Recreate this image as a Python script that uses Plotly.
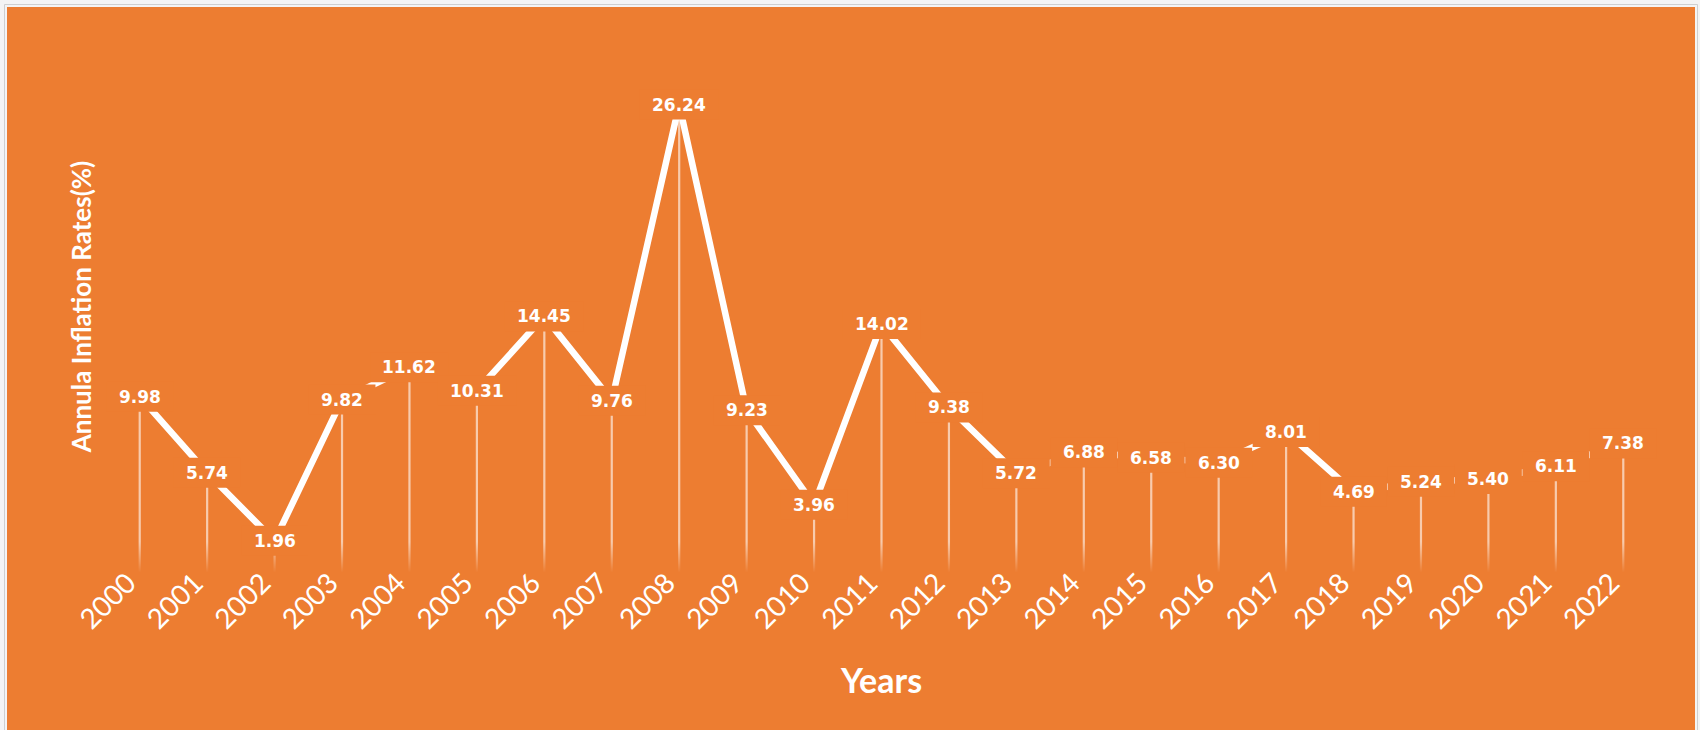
import plotly.graph_objects as go

# Annual inflation rate by year
years = list(range(2000, 2023))
inflation = [9.98, 5.74, 1.96, 9.82, 11.62, 10.31, 14.45, 9.76, 26.24, 9.23, 3.96,
             14.02, 9.38, 5.72, 6.88, 6.58, 6.30, 8.01, 4.69, 5.24, 5.40, 6.11, 7.38]
year_labels = [str(y) for y in years]
value_labels = [f"{v:.2f}" for v in inflation]

ORANGE = "#ED7D31"
WIDTH, HEIGHT = 1700, 730
ML, MR, MT, MB = 106, 43, 37, 154
PW, PH = WIDTH - ML - MR, HEIGHT - MT - MB
Y_MAX = 30


def px_x(p):
    return (p - ML) / PW


def px_y(p):
    return (HEIGHT - MB - p) / PH


fig = go.Figure()

# thick white trend line
fig.add_trace(go.Scatter(
    x=years, y=inflation, mode="lines",
    line=dict(color="white", width=6.5),
    hoverinfo="skip", showlegend=False,
))

# drop lines from each point down to the axis, fading out near the bottom
half_w = 1.1 / (PW / 23)
dx, dy = [], []
for yr, v in zip(years, inflation):
    dx += [yr - half_w, yr + half_w, yr + half_w, yr - half_w, yr - half_w, None]
    dy += [0, 0, v, v, 0, None]
fig.add_trace(go.Scatter(
    x=dx, y=dy, mode="lines", fill="toself",
    line=dict(width=0, color="rgba(0,0,0,0)"),
    fillgradient=dict(
        type="vertical",
        colorscale=[[0, "rgba(255,255,255,0)"], [1, "rgba(255,255,255,0.6)"]],
        start=0.2, stop=1.9,
    ),
    hoverinfo="skip", showlegend=False,
))

shapes = [
    # page frame
    dict(type="rect", xref="paper", yref="paper", layer="below",
         x0=px_x(4.5), x1=px_x(1697.5), y0=px_y(745), y1=px_y(4.5),
         line=dict(color="#CFCFCF", width=1), fillcolor="rgba(0,0,0,0)"),
    dict(type="rect", xref="paper", yref="paper", layer="below",
         x0=px_x(7), x1=px_x(1695), y0=px_y(745), y1=px_y(7),
         line=dict(width=0), fillcolor=ORANGE),
]

annotations = []
for yr, v, txt in zip(years, inflation, value_labels):
    n_digits = sum(c.isdigit() for c in txt)
    box_w = 11.8 * n_digits + 6.5 + 25
    # orange label background that masks the line around the point
    shapes.append(dict(
        type="rect", xref="x", yref="y", layer="above",
        xsizemode="pixel", ysizemode="pixel", xanchor=yr, yanchor=v,
        x0=-box_w / 2, x1=box_w / 2, y0=-15, y1=15,
        fillcolor=ORANGE, line=dict(width=0),
    ))
    annotations.append(dict(
        x=yr, y=v, xref="x", yref="y", text=f"<b>{txt}</b>", showarrow=False,
        xanchor="center", yanchor="middle",
        font=dict(family="DejaVu Sans", size=17, color="white"),
    ))

fig.update_layout(
    width=WIDTH, height=HEIGHT,
    margin=dict(l=ML, r=MR, t=MT, b=MB, autoexpand=False),
    paper_bgcolor="#F4F4F4", plot_bgcolor="rgba(0,0,0,0)",
    shapes=shapes, annotations=annotations,
    showlegend=False,
    xaxis=dict(
        range=[1999.5, 2022.5], tickmode="array", tickvals=years, ticktext=year_labels,
        tickangle=-45, tickfont=dict(family="Lato", size=28, color="white"),
        ticklabelstandoff=-16, ticklabelshift=-12,
        showgrid=False, zeroline=False, showline=False, ticks="",
        title=dict(text="<b>Years</b>", font=dict(family="Lato", size=34, color="white"),
                   standoff=35),
        automargin=False,
    ),
    yaxis=dict(
        range=[0, Y_MAX], showticklabels=False, showgrid=False, zeroline=False,
        showline=False, ticks="",
        title=dict(text="<b>Annula Inflation Rates(%)</b>",
                   font=dict(family="Lato", size=26, color="white"), standoff=5),
        automargin=False,
    ),
)

fig.write_html("out.html")
